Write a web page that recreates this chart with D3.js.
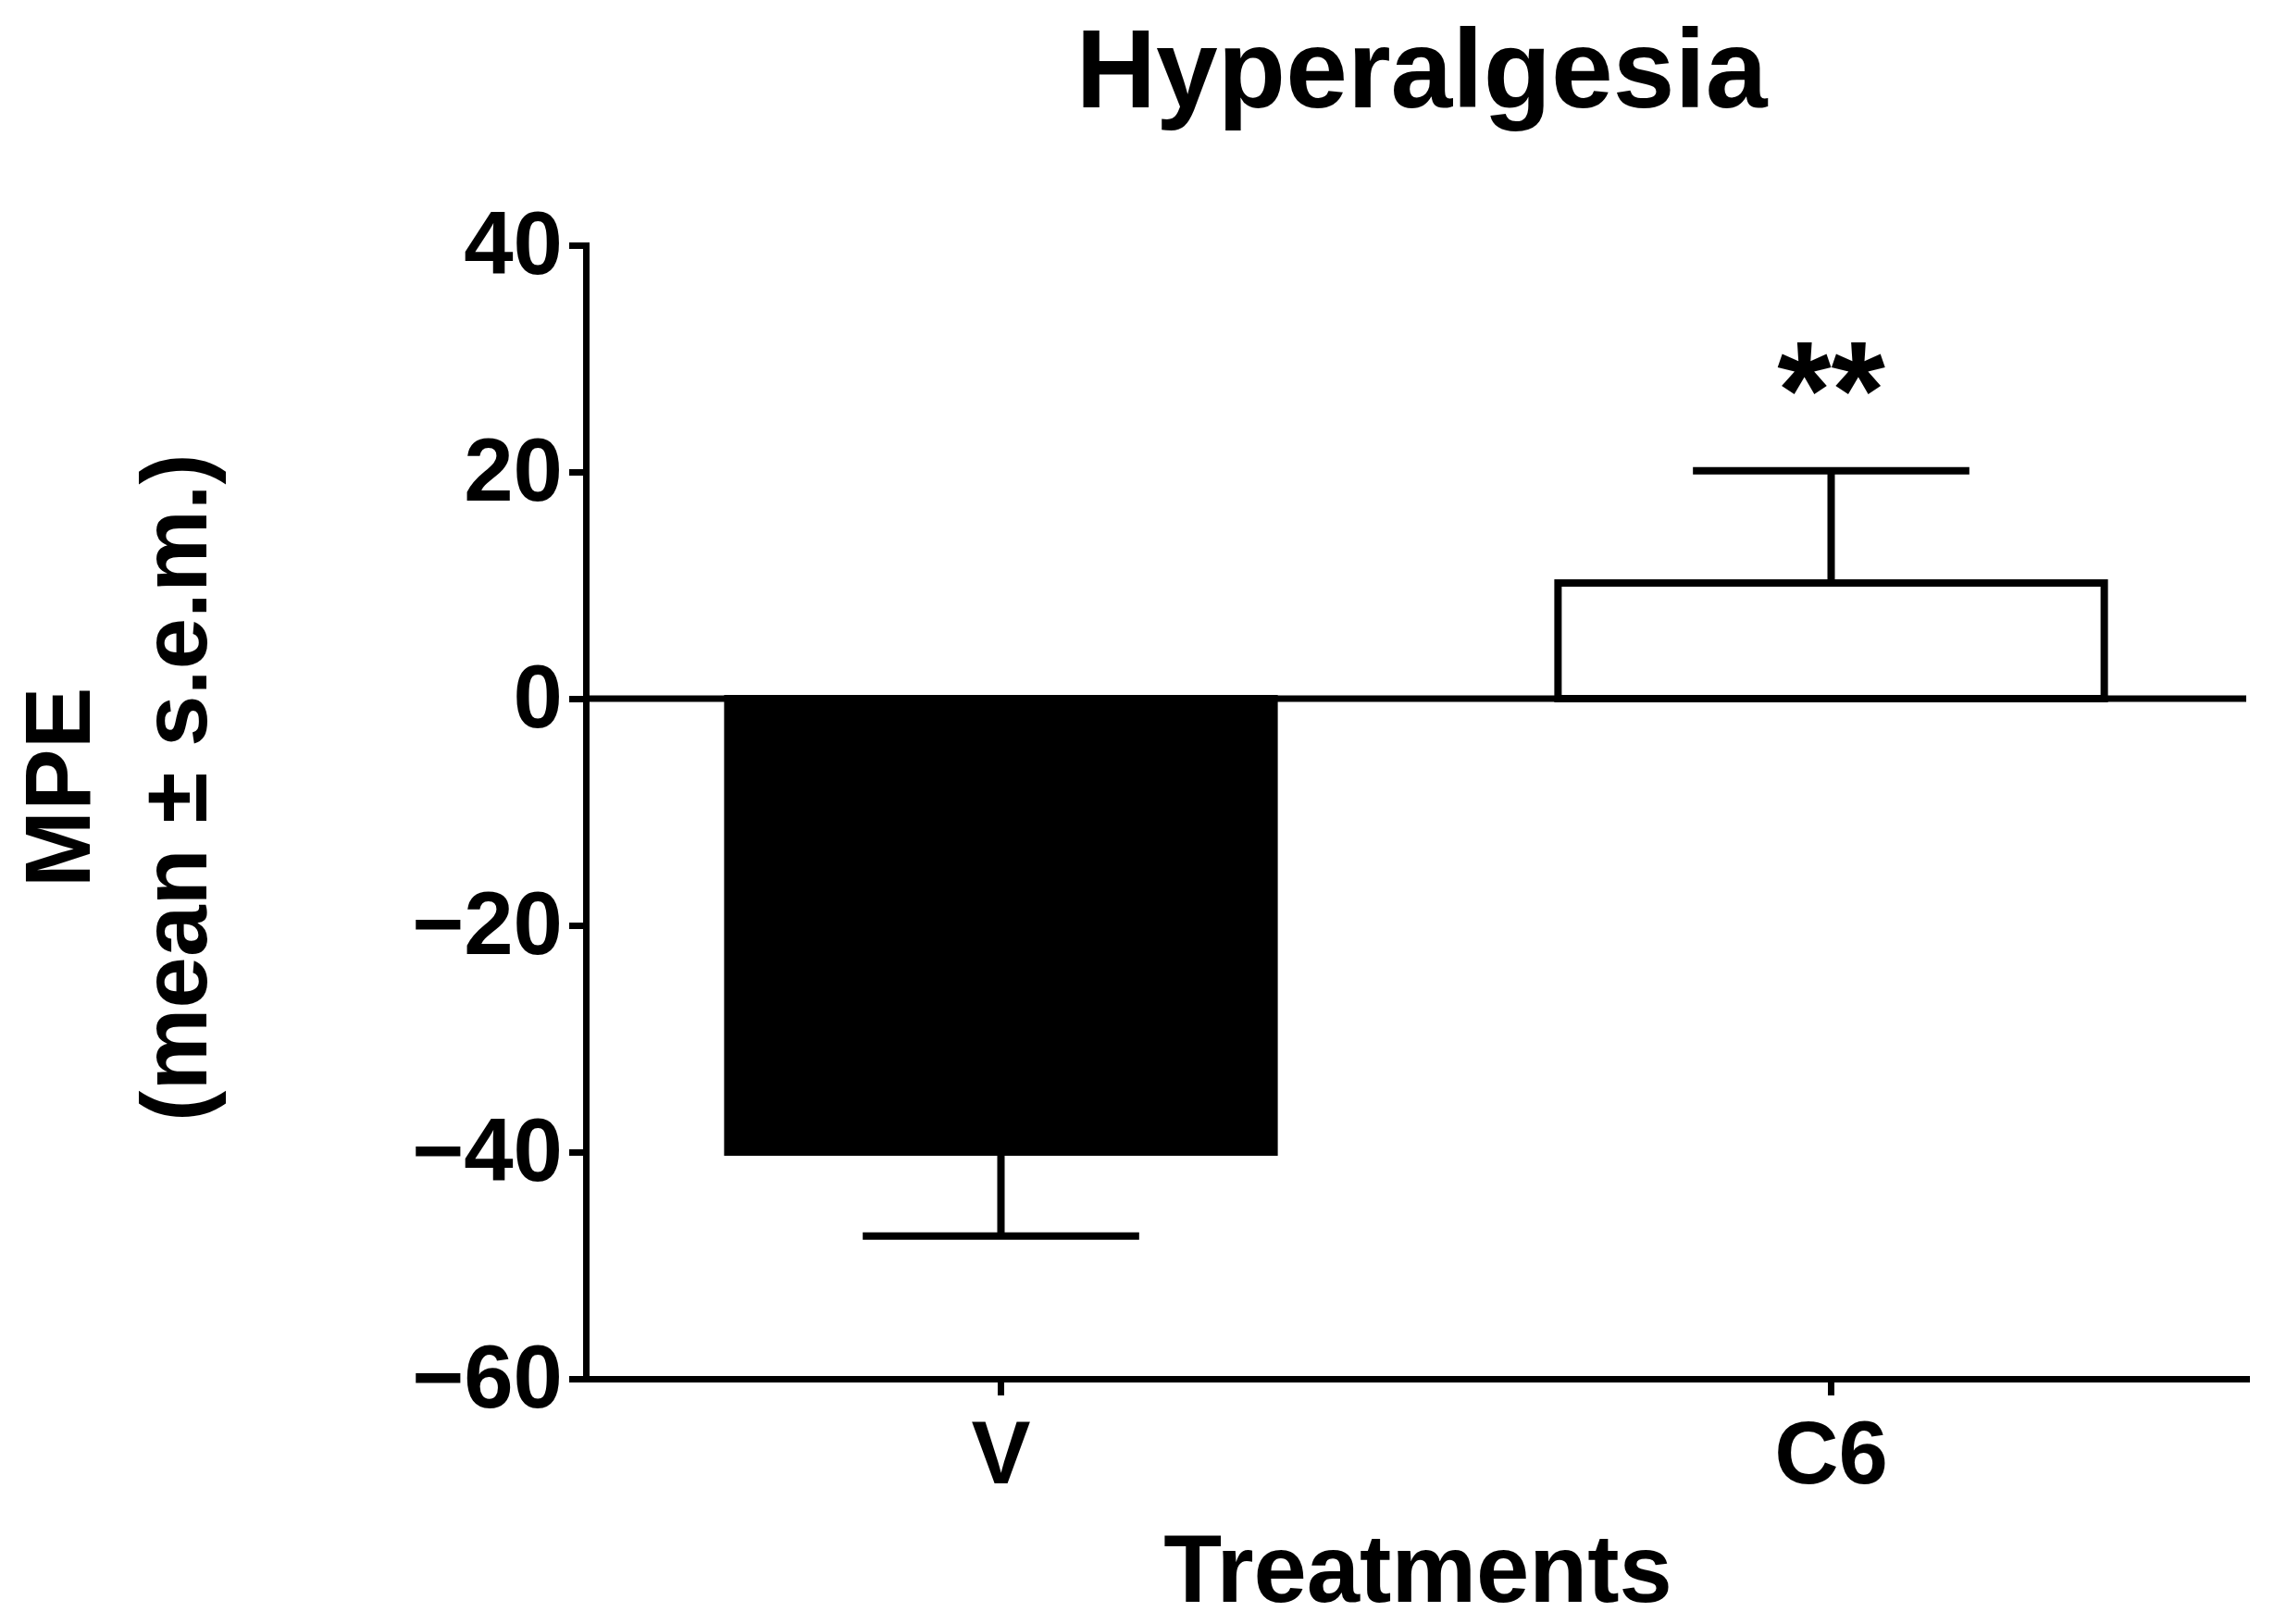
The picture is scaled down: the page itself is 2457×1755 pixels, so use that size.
<!DOCTYPE html>
<html>
<head>
<meta charset="utf-8">
<script src="https://cdn.jsdelivr.net/npm/d3@7"></script>
<style>
  body { margin: 0; background: #fff; }
  svg text { font-family: "Liberation Sans", Arial, Helvetica, sans-serif; font-weight: bold; fill: #000; }
</style>
</head>
<body>
<svg id="chart" width="2457" height="1755"></svg>
<script>
// values
var categories = ['V', 'C6'];
var means = [-40, 10.2];
var sems = [7.4, 9.9];
var significance = ['', '**'];
var yTicks = [-60, -40, -20, 0, 20, 40];

var svg = d3.select('#chart');

// plot area in page pixels
var plot = {l: 633, r: 2427, t: 265, b: 1490};

var x = d3.scaleBand()
    .domain(categories)
    .range([plot.l, plot.r])
    .paddingInner(0.342)
    .paddingOuter(0.171);

var y = d3.scaleLinear()
    .domain([-60, 40])
    .range([plot.b, plot.t]);

var rows = categories.map(function(c, i) {
    return {cat: c, mean: means[i], sem: sems[i], sig: significance[i]};
});

// bars
svg.append('g').selectAll('rect')
    .data(rows)
    .enter().append('rect')
    .attr('x', function(d) { return x(d.cat); })
    .attr('width', x.bandwidth())
    .attr('y', function(d) { return y(Math.max(0, d.mean)); })
    .attr('height', function(d) { return Math.abs(y(d.mean) - y(0)); })
    .attr('fill', function(d, i) { return i === 0 ? '#000' : '#fff'; })
    .attr('stroke', '#000')
    .attr('stroke-width', 8);

// error bars, only on the outward side
var capHalf = x.bandwidth() * 0.253;
var err = svg.append('g').attr('stroke', '#000').attr('stroke-width', 8);
rows.forEach(function(d) {
    var cx = x(d.cat) + x.bandwidth() / 2;
    var tip = d.mean < 0 ? d.mean - d.sem : d.mean + d.sem;
    err.append('line')
        .attr('x1', cx).attr('x2', cx)
        .attr('y1', y(d.mean)).attr('y2', y(tip));
    err.append('line')
        .attr('x1', cx - capHalf).attr('x2', cx + capHalf)
        .attr('y1', y(tip)).attr('y2', y(tip));
});

// zero line
svg.append('line')
    .attr('x1', plot.l).attr('x2', plot.r)
    .attr('y1', y(0)).attr('y2', y(0))
    .attr('stroke', '#000')
    .attr('stroke-width', 7);

// axes
var yAxis = d3.axisLeft(y)
    .tickValues(yTicks)
    .tickSize(18)
    .tickSizeOuter(0)
    .tickPadding(7);

var xAxis = d3.axisBottom(x)
    .tickSize(18)
    .tickSizeOuter(0)
    .tickPadding(27);

var gy = svg.append('g')
    .attr('transform', 'translate(' + plot.l + ',0)')
    .call(yAxis);

var gx = svg.append('g')
    .attr('transform', 'translate(0,' + plot.b + ')')
    .call(xAxis);

[gx, gy].forEach(function(g) {
    g.attr('font-family', null).attr('font-size', null);
    g.selectAll('path, line').attr('stroke', '#000').attr('stroke-width', 7);
    g.select('.domain').attr('stroke-linecap', 'square');
    g.selectAll('text').style('font-size', '96px').attr('fill', '#000');
});

// significance marks
svg.append('g').selectAll('text')
    .data(rows)
    .enter().append('text')
    .attr('x', function(d) { return x(d.cat) + x.bandwidth() / 2; })
    .attr('y', 474)
    .attr('text-anchor', 'middle')
    .style('font-size', '150px')
    .text(function(d) { return d.sig; });

// title
svg.append('text')
    .attr('x', 1536)
    .attr('y', 116)
    .attr('text-anchor', 'middle')
    .style('font-size', '120px')
    .text('Hyperalgesia');

// x label
svg.append('text')
    .attr('x', 1532)
    .attr('y', 1731)
    .attr('text-anchor', 'middle')
    .style('font-size', '103px')
    .text('Treatments');

// y label, two lines
var yLab = svg.append('text')
    .attr('transform', 'translate(0,851) rotate(-90)')
    .attr('text-anchor', 'middle')
    .style('font-size', '100px');
yLab.append('tspan').attr('x', 0).attr('y', 97).text('MPE');
yLab.append('tspan').attr('x', 0).attr('y', 223).text('(mean \u00b1 s.e.m.)');
</script>
</body>
</html>
